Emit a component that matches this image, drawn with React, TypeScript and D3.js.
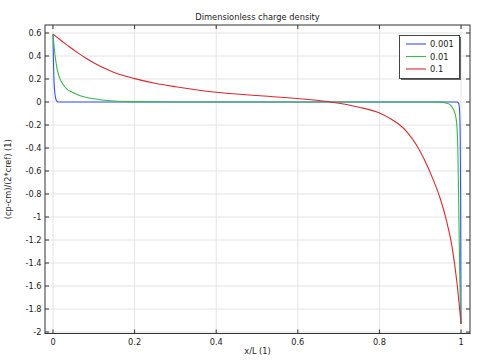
import { useEffect, useRef } from "react";
import * as d3 from "d3";

// x/L (1) samples and (cp-cm)/(2*cref) values
const xBlue = [0, 0.001, 0.002, 0.004, 0.006, 0.008, 0.011, 0.015, 0.5, 0.99, 0.994, 0.996, 0.998, 0.999, 1];
const yBlue = [0.59, 0.38, 0.23, 0.1, 0.04, 0.015, 0.003, 0, 0, 0, -0.01, -0.05, -0.3, -0.8, -1.93];

const xGreen = [0, 0.003, 0.006, 0.01, 0.015, 0.025, 0.035, 0.046, 0.06, 0.078, 0.1, 0.12, 0.15, 0.2, 0.3, 0.5, 0.7, 0.9, 0.95, 0.965, 0.975, 0.982, 0.988, 0.992, 0.994, 0.996, 0.998, 1];
const yGreen = [0.59, 0.47, 0.38, 0.29, 0.22, 0.15, 0.11, 0.087, 0.063, 0.044, 0.028, 0.018, 0.009, 0.003, 0, 0, 0, 0, -0.001, -0.01, -0.03, -0.07, -0.145, -0.38, -0.81, -1.3, -1.72, -1.93];

const xRed = [0, 0.02, 0.04, 0.062, 0.08, 0.103, 0.125, 0.144, 0.17, 0.2, 0.25, 0.3, 0.35, 0.4, 0.5, 0.6, 0.68, 0.75, 0.8, 0.825, 0.85, 0.87, 0.89, 0.91, 0.93, 0.95, 0.965, 0.978, 0.99, 1];
const yRed = [0.59, 0.535, 0.48, 0.425, 0.383, 0.335, 0.295, 0.265, 0.232, 0.203, 0.163, 0.133, 0.107, 0.085, 0.056, 0.03, 0, -0.045, -0.095, -0.14, -0.2, -0.27, -0.37, -0.5, -0.66, -0.85, -1.04, -1.26, -1.57, -1.93];

const seriesNames = ["0.001", "0.01", "0.1"];
const seriesColors = ["#3350ff", "#33bb44", "#e0262a"];

const xTicks = [0, 0.2, 0.4, 0.6, 0.8, 1];
const yTicks = [0.6, 0.4, 0.2, 0, -0.2, -0.4, -0.6, -0.8, -1, -1.2, -1.4, -1.6, -1.8, -2];

const title = "Dimensionless charge density";
const xLabel = "x/L (1)";
const yLabel = "(cp-cm)/(2*cref) (1)";

export default function App() {
  const ref = useRef<SVGSVGElement>(null);

  useEffect(() => {
    const width = 483;
    const height = 363;
    const left = 45, right = 470, top = 25, bottom = 333.5;
    const font = "DejaVu Sans";

    const svg = d3.select(ref.current);
    svg.selectAll("*").remove();

    const x = d3.scaleLinear().domain([-0.0196, 1.022]).range([left, right]);
    const y = d3.scaleLinear().domain([-2.0, 0.6]).range([332, 33]);

    svg.append("rect").attr("width", width).attr("height", height).attr("fill", "#fff");

    // grid
    svg.append("g").selectAll("line").data(xTicks).enter().append("line")
      .attr("x1", d => x(d)).attr("x2", d => x(d))
      .attr("y1", top).attr("y2", bottom)
      .attr("stroke", "#e4e4e4").attr("stroke-width", 1);
    svg.append("g").selectAll("line").data(yTicks).enter().append("line")
      .attr("y1", d => y(d)).attr("y2", d => y(d))
      .attr("x1", left).attr("x2", right)
      .attr("stroke", "#e4e4e4").attr("stroke-width", 1);

    svg.append("clipPath").attr("id", "plotclip")
      .append("rect").attr("x", left).attr("y", top)
      .attr("width", right - left).attr("height", bottom - top);

    const line = d3.line<[number, number]>()
      .x(d => x(d[0]))
      .y(d => y(d[1]))
      .curve(d3.curveMonotoneX);

    const series: [number, number][][] = [
      xBlue.map((v, i) => [v, yBlue[i]]),
      xGreen.map((v, i) => [v, yGreen[i]]),
      xRed.map((v, i) => [v, yRed[i]]),
    ];

    const plot = svg.append("g").attr("clip-path", "url(#plotclip)");
    series.forEach((s, i) => {
      plot.append("path")
        .datum(s)
        .attr("fill", "none")
        .attr("stroke", seriesColors[i])
        .attr("stroke-width", 1.1)
        .attr("d", line);
    });

    // frame
    svg.append("rect")
      .attr("x", left).attr("y", top)
      .attr("width", right - left).attr("height", bottom - top)
      .attr("fill", "none").attr("stroke", "#333").attr("stroke-width", 1);

    // inward ticks
    const tk = svg.append("g").attr("stroke", "#333").attr("stroke-width", 1);
    xTicks.forEach(t => {
      tk.append("line").attr("x1", x(t)).attr("x2", x(t)).attr("y1", bottom).attr("y2", bottom - 4);
      tk.append("line").attr("x1", x(t)).attr("x2", x(t)).attr("y1", top).attr("y2", top + 4);
    });
    yTicks.forEach(t => {
      tk.append("line").attr("y1", y(t)).attr("y2", y(t)).attr("x1", left).attr("x2", left + 4);
      tk.append("line").attr("y1", y(t)).attr("y2", y(t)).attr("x1", right).attr("x2", right - 4);
    });

    // tick labels
    svg.append("g").selectAll("text").data(xTicks).enter().append("text")
      .attr("x", d => x(d)).attr("y", 344.5)
      .attr("text-anchor", "middle")
      .attr("font-family", font).attr("font-size", 8.2).attr("fill", "#222")
      .text(d => String(d));
    svg.append("g").selectAll("text").data(yTicks).enter().append("text")
      .attr("x", 41.5).attr("y", d => y(d) + 3)
      .attr("text-anchor", "end")
      .attr("font-family", font).attr("font-size", 8.2).attr("fill", "#222")
      .text(d => String(d));

    svg.append("text").attr("x", (left + right) / 2).attr("y", 19.5)
      .attr("text-anchor", "middle").attr("font-family", font).attr("font-size", 8.3)
      .attr("fill", "#222").text(title);
    svg.append("text").attr("x", (left + right) / 2).attr("y", 353.5)
      .attr("text-anchor", "middle").attr("font-family", font).attr("font-size", 8.2)
      .attr("fill", "#222").text(xLabel);
    svg.append("text")
      .attr("transform", `translate(10.5,${(top + bottom) / 2}) rotate(-90)`)
      .attr("text-anchor", "middle").attr("font-family", font).attr("font-size", 8.2)
      .attr("fill", "#222").text(yLabel);

    // legend
    const lg = svg.append("g");
    lg.append("rect").attr("x", 401).attr("y", 37).attr("width", 60).attr("height", 43)
      .attr("fill", "#666");
    lg.append("rect").attr("x", 399.5).attr("y", 35.5).attr("width", 60).attr("height", 43)
      .attr("fill", "#fff").attr("stroke", "#444").attr("stroke-width", 1);
    seriesNames.forEach((n, i) => {
      const ly = 44 + i * 12.5;
      lg.append("line").attr("x1", 406).attr("x2", 426).attr("y1", ly).attr("y2", ly)
        .attr("stroke", seriesColors[i]).attr("stroke-width", 1.1);
      lg.append("text").attr("x", 430).attr("y", ly + 3)
        .attr("font-family", font).attr("font-size", 8.3).attr("fill", "#222").text(n);
    });
  }, []);

  return (
    <svg ref={ref} width={483} height={363}
      style={{ position: "absolute", left: 0, top: 0, display: "block" }} />
  );
}
